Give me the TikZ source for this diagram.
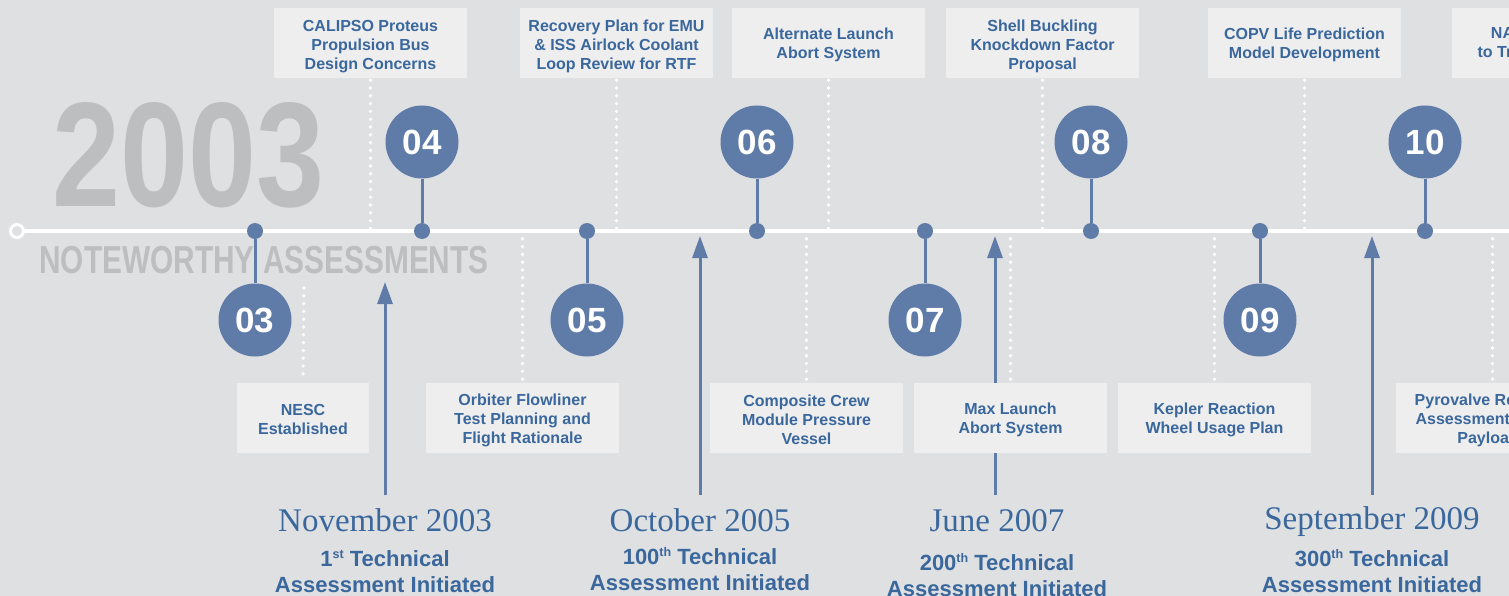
\documentclass[tikz,border=0pt]{standalone}
\usepackage{fontspec}
\setmainfont{Liberation Sans}
\newfontfamily\monthfont{Liberation Serif}
\usetikzlibrary{arrows.meta}
\definecolor{bg}{HTML}{DFE0E2}
\definecolor{boxfill}{HTML}{EEEEEF}
\definecolor{pinblue}{HTML}{5F7BA8}
\definecolor{txtblue}{HTML}{3A679C}
\definecolor{ghost}{HTML}{BDBEC0}
% small raised ordinal suffix
\newcommand\ordsup[1]{\raisebox{7.5pt}{\fontsize{12.5}{12.5}\selectfont #1}}
\begin{document}
\begin{tikzpicture}[x=1pt,y=-1pt,
  notebox/.style={fill=boxfill, minimum width=193pt, minimum height=70pt, inner sep=0pt},
  notetext/.style={inner sep=0pt, align=center, text=txtblue,
    font=\fontsize{16}{19}\selectfont\bfseries},
  dotline/.style={white, line width=3.6pt, line cap=round, dash pattern=on 0pt off 7.8pt},
  pin/.style={circle, fill=pinblue, minimum size=73pt, inner sep=0pt, text=white,
    font=\fontsize{35}{35}\selectfont\bfseries},
  pindot/.style={circle, fill=pinblue, minimum size=16pt, inner sep=0pt},
  stem/.style={pinblue, line width=3pt},
  milestone/.style={pinblue, line width=3pt, -{Triangle[width=15pt,length=22pt]}},
  month/.style={anchor=base, inner sep=0pt, text=txtblue, font=\monthfont\fontsize{33}{33}\selectfont},
  count/.style={anchor=base, inner sep=0pt, text=txtblue, font=\fontsize{22}{26}\selectfont\bfseries},
  ghosttext/.style={anchor=base, inner sep=0pt, text=ghost},
]
\useasboundingbox (0,0) rectangle (1509,596);
\clip (0,0) rectangle (1509,596);
\fill[bg] (0,0) rectangle (1509,596);

% title lettering
\node[ghosttext, font=\fontsize{149}{149}\selectfont\bfseries] (year) at (188.5,207) {\scalebox{0.82}[1]{2003}};
\node[ghosttext, font=\fontsize{39}{39}\selectfont\bfseries] (subtitle) at (264,273.5) {\scalebox{0.765}[1]{NOTEWORTHY ASSESSMENTS}};

% milestone arrows, drawn first so the boxes sit over them
\coordinate (m1s) at (385,495); \coordinate (m1e) at (385,282);
\coordinate (m2s) at (700,495); \coordinate (m2e) at (700,236);
\coordinate (m3s) at (995,495); \coordinate (m3e) at (995,236);
\coordinate (m4s) at (1372,495); \coordinate (m4e) at (1372,236);
\draw[milestone] (m1s) -- (m1e);
\draw[milestone] (m2s) -- (m2e);
\draw[milestone] (m3s) -- (m3e);
\draw[milestone] (m4s) -- (m4e);

% assessment boxes above the axis
\node[notebox] (calipso) at (370.5,43) {};
\node[notebox] (emu) at (616.5,43) {};
\node[notebox] (alas) at (828.5,43) {};
\node[notebox] (shell) at (1042.5,43) {};
\node[notebox] (copv) at (1304.5,43) {};
\node[notebox] (miners) at (1548.5,43) {};
\node[notetext] (calipsoT) at ([yshift=-3.5pt]calipso.center) {CALIPSO Proteus\\Propulsion Bus\\Design Concerns};
\node[notetext] (emuT) at ([yshift=-3.5pt]emu.center) {Recovery Plan for EMU\\\& ISS Airlock Coolant\\Loop Review for RTF};
\node[notetext] (alasT) at ([yshift=-1.5pt]alas.center) {Alternate Launch\\Abort System};
\node[notetext] (shellT) at ([yshift=-3.5pt]shell.center) {Shell Buckling\\Knockdown Factor\\Proposal};
\node[notetext] (copvT) at ([yshift=-1.5pt]copv.center) {COPV Life Prediction\\Model Development};
\node[notetext] (minersT) at ([yshift=-1.5pt, xshift=-2pt]miners.center) {NASA Support\\to Trapped Miners};

% assessment boxes below the axis
\node[notebox, minimum width=132pt] (nesc) at (303,417.5) {};
\node[notebox] (flowliner) at (522.5,417.5) {};
\node[notebox] (ccm) at (806.5,417.5) {};
\node[notebox] (mlas) at (1010.5,417.5) {};
\node[notebox] (kepler) at (1214.5,417.5) {};
\node[notebox] (pyro) at (1492.5,417.5) {};
\node[notetext] (nescT) at ([yshift=-1.5pt]nesc.center) {NESC\\Established};
\node[notetext] (flowlinerT) at ([yshift=-2.5pt]flowliner.center) {Orbiter Flowliner\\Test Planning and\\Flight Rationale};
\node[notetext] (ccmT) at ([yshift=-2.5pt]ccm.center) {Composite Crew\\Module Pressure\\Vessel};
\node[notetext] (mlasT) at ([yshift=-2pt]mlas.center) {Max Launch\\Abort System};
\node[notetext] (keplerT) at ([yshift=-2pt]kepler.center) {Kepler Reaction\\Wheel Usage Plan};
\node[notetext] (pyroT) at ([yshift=-2.5pt]pyro.center) {Pyrovalve Reliability\\Assessment for Key\\Payloads};

% timeline axis
\coordinate (tlend) at (1530,231);
\node[circle, draw=white, line width=3pt, fill=bg, minimum size=13pt, inner sep=0pt] (origin) at (17,231) {};

% dotted leaders between boxes and axis
\coordinate (nesctop) at (304,288);
\foreach \b in {calipso,emu,alas,shell,copv,miners}
  \draw[dotline] ([yshift=-2pt]\b.south) -- (\b.south |- origin);
\foreach \b in {flowliner,ccm,mlas,kepler,pyro}
  \draw[dotline] (\b.north |- origin) -- ([yshift=2pt]\b.north);
\draw[dotline] (nesctop) -- ([yshift=2pt]nesc.north);

\draw[white, line width=4.5pt] (origin.east) -- (tlend);

% numbered pins
\foreach \n/\x in {04/422,06/757,08/1091,10/1425} {
  \node[pindot] (d\n) at (\x,231) {};
  \node[pin] (p\n) at (\x,142) {\n};
  \draw[stem] (p\n) -- (d\n);
}
\foreach \n/\x in {03/255,05/587,07/925,09/1260} {
  \node[pindot] (d\n) at (\x,231) {};
  \node[pin] (p\n) at (\x,320) {\n};
  \draw[stem] (p\n) -- (d\n);
}

% milestone captions
\node[month] (mon1) at (385,531) {November 2003};
\node[count] (c1a) at (385,566) {1\ordsup{st} Technical};
\node[count] (c1b) at (385,592) {Assessment Initiated};
\node[month] (mon2) at (700,531) {October 2005};
\node[count] (c2a) at (700,564) {100\ordsup{th} Technical};
\node[count] (c2b) at (700,590) {Assessment Initiated};
\node[month] (mon3) at (997,531) {June 2007};
\node[count] (c3a) at (997,570) {200\ordsup{th} Technical};
\node[count] (c3b) at (997,596) {Assessment Initiated};
\node[month] (mon4) at (1372,529) {September 2009};
\node[count] (c4a) at (1372,566) {300\ordsup{th} Technical};
\node[count] (c4b) at (1372,592) {Assessment Initiated};
\end{tikzpicture}
\end{document}
